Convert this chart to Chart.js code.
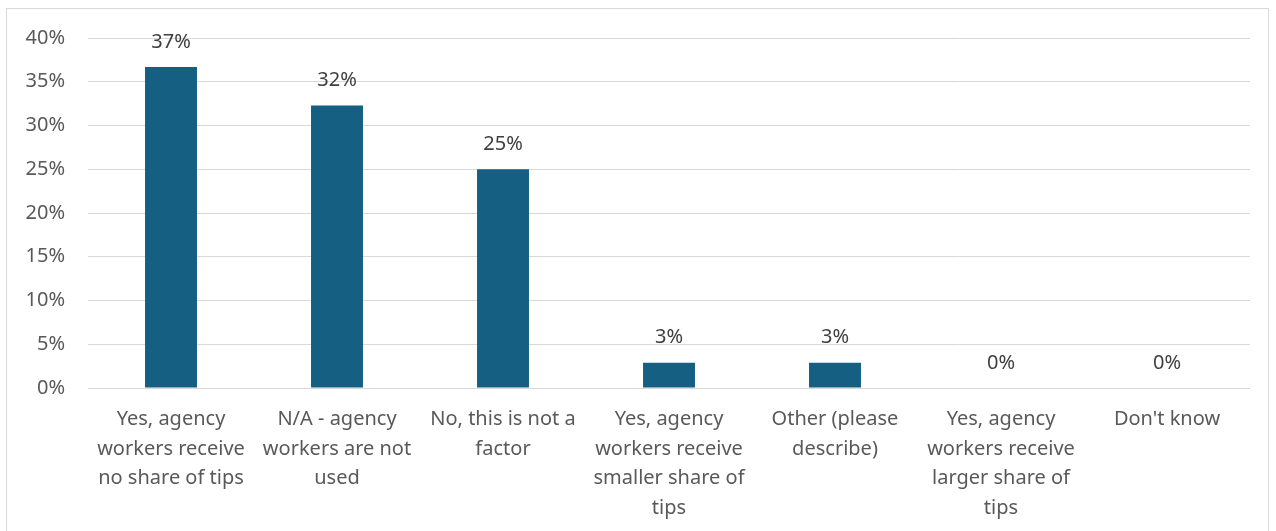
<!DOCTYPE html>
<html>
<head>
<meta charset="utf-8">
<script src="https://cdn.jsdelivr.net/npm/chart.js@4/dist/chart.umd.min.js"></script>
<style>
  html, body { margin: 0; padding: 0; background: #fff; }
  #wrap { position: relative; width: 1276px; height: 531px; overflow: hidden; }
  #frame { position: absolute; left: 6px; top: 8px; width: 1263px; height: 560px; border: 1px solid #d9d9d9; box-sizing: border-box; }
  canvas { position: absolute; left: 0; top: 0; }
</style>
</head>
<body>
<div id="wrap">
  <div id="frame"></div>
  <canvas id="c" width="1276" height="531"></canvas>
</div>
<script>
const categories = [
  ["Yes, agency", "workers receive", "no share of tips"],
  ["N/A - agency", "workers are not", "used"],
  ["No, this is not a", "factor"],
  ["Yes, agency", "workers receive", "smaller share of", "tips"],
  ["Other (please", "describe)"],
  ["Yes, agency", "workers receive", "larger share of", "tips"],
  ["Don't know"]
];
const values = [36.7, 32.3, 25.0, 2.9, 2.9, 0, 0];
const valueLabels = ["37%", "32%", "25%", "3%", "3%", "0%", "0%"];
const yTicks = [0, 5, 10, 15, 20, 25, 30, 35, 40];

const FONT = "'Noto Sans', 'Liberation Sans', sans-serif";
const FS = 20;

const labelPlugin = {
  id: 'valueLabels',
  afterDatasetsDraw(chart) {
    const ctx = chart.ctx;
    const meta = chart.getDatasetMeta(0);
    ctx.save();
    ctx.font = FS + "px " + FONT;
    ctx.fillStyle = "#404040";
    ctx.textAlign = "center";
    ctx.textBaseline = "middle";
    meta.data.forEach((bar, i) => {
      ctx.fillText(valueLabels[i], bar.x, bar.y - 25);
    });
    ctx.restore();
  }
};

new Chart(document.getElementById('c'), {
  type: 'bar',
  data: {
    labels: categories,
    datasets: [{
      data: values,
      backgroundColor: '#156082',
      categoryPercentage: 1.0,
      barPercentage: 0.313
    }]
  },
  options: {
    responsive: false,
    animation: false,
    devicePixelRatio: 1,
    layout: { padding: { top: 38, right: 26, left: 0, bottom: 0 } },
    plugins: { legend: { display: false }, tooltip: { enabled: false } },
    scales: {
      x: {
        grid: { display: false, drawTicks: false },
        border: { display: false },
        ticks: {
          color: '#595959',
          font: { family: FONT, size: FS, lineHeight: 1.47 },
          padding: 17,
          maxRotation: 0,
          minRotation: 0,
          autoSkip: false
        },
        afterFit(s) { s.height = 143; }
      },
      y: {
        min: 0, max: 40,
        afterBuildTicks(s) { s.ticks = yTicks.map(v => ({ value: v })); },
        grid: { color: '#d9d9d9', lineWidth: 1, drawTicks: false },
        border: { display: false },
        ticks: {
          color: '#595959',
          font: { family: FONT, size: FS },
          padding: 23,
          callback: v => v + '%'
        },
        afterFit(s) { s.width = 88; }
      }
    }
  },
  plugins: [labelPlugin]
});
</script>
</body>
</html>
